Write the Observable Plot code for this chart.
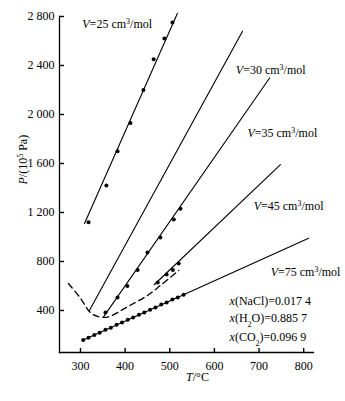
<!DOCTYPE html>
<html><head><meta charset="utf-8">
<script src="https://cdn.jsdelivr.net/npm/d3@7"></script>
<script src="https://cdn.jsdelivr.net/npm/@observablehq/plot@0.6"></script>
<style>body{margin:0;background:#fff} svg, svg text{font-family:"Liberation Serif","Times New Roman",serif !important}</style>
</head><body><div id="chart"></div>
<script>
// Axis ticks
const xTicks = [300, 400, 500, 600, 700, 800];
const yTicks = [400, 800, 1200, 1600, 2000, 2400, 2800];

// Measured points (T in °C, P in 10^5 Pa)
const v25T = [318, 358, 383, 412, 441, 464, 488, 506];
const v25P = [1120, 1420, 1700, 1930, 2200, 2450, 2620, 2750];
const v35T = [356, 383, 405, 428, 450, 479, 509, 524];
const v35P = [384, 506, 600, 730, 873, 996, 1143, 1231];
const v45T = [473, 493, 507, 520];
const v45P = [629, 694, 730, 784];
const v75T = [306, 318, 331, 343, 356, 368, 381, 393, 406, 418, 431, 443, 456, 468, 481, 493, 506, 518, 531];
const v75P = [160, 178, 200, 219, 242, 260, 283, 301, 324, 342, 365, 383, 406, 424, 448, 465, 489, 506, 528];

// Isochore lines (end points)
const line25T = [309, 517];   const line25P = [1110, 2825];
const line30T = [320, 663];   const line30P = [400, 2680];
const line35T = [352, 724];   const line35P = [350, 2300];
const line45T = [465, 748];   const line45P = [610, 1590];
const line75T = [304, 811];   const line75P = [155, 990];

// Dashed boundary curve
const dashT = [273, 300, 322, 338, 352, 366, 405, 450, 479, 520];
const dashP = [620, 500, 384, 352, 343, 352, 430, 522, 604, 727];

// Annotations
const labelText = ["V=25 cm³/mol", "V=30 cm³/mol", "V=35 cm³/mol", "V=45 cm³/mol", "V=75 cm³/mol",
                   "x(NaCl)=0.017 4", "x(H₂O)=0.885 7", "x(CO₂)=0.096 9"];
const labelT = [304, 648, 674, 688, 726, 634, 634, 634];
const labelP = [2740, 2366, 1848, 1254, 710, 473, 335, 180];

const W = 345, H = 401, ML = 59, MR = 32, MT = 16, MB = 49;
const rows = (T, P) => T.map((t, i) => ({T: t, P: P[i]}));
const fmt = d => d >= 1000 ? String(Math.floor(d / 1000)) + " " + String(d % 1000).padStart(3, "0") : String(d);

const lineOpts = {x: "T", y: "P", stroke: "black", strokeWidth: 1.1};
const dotOpts = {x: "T", y: "P", r: 2, fill: "black", stroke: "none"};

const chart = Plot.plot({
  width: W, height: H,
  marginLeft: ML, marginRight: MR, marginTop: MT, marginBottom: MB,
  x: {domain: [253, 822]},
  y: {domain: [57, 2800]},
  style: {fontFamily: "Liberation Serif", fontSize: "12px", background: "white", color: "black"},
  marks: [
    Plot.frame({anchor: "left", stroke: "black", strokeWidth: 1.3}),
    Plot.frame({anchor: "bottom", stroke: "black", strokeWidth: 1.3}),
    Plot.axisY(yTicks, {tickSize: 0, tickPadding: 5, tickFormat: fmt, label: null, fontSize: 12}),
    Plot.axisX(xTicks, {tickSize: 0, tickPadding: 9, tickFormat: d => String(d), label: null, fontSize: 12}),
    // inward tick marks
    Plot.ruleY(yTicks, {y: d => d, insetRight: W - ML - MR - 5, stroke: "black", strokeWidth: 1.4}),
    Plot.ruleX(xTicks, {x: d => d, insetTop: H - MT - MB - 4, stroke: "black", strokeWidth: 1.4}),
    Plot.line(rows(line25T, line25P), lineOpts),
    Plot.line(rows(line30T, line30P), lineOpts),
    Plot.line(rows(line35T, line35P), lineOpts),
    Plot.line(rows(line45T, line45P), lineOpts),
    Plot.line(rows(line75T, line75P), lineOpts),
    Plot.line(rows(dashT, dashP), {x: "T", y: "P", stroke: "black", strokeWidth: 1.3, strokeDasharray: "6,4", curve: "catmull-rom"}),
    Plot.dot(rows(v25T, v25P), dotOpts),
    Plot.dot(rows(v35T, v35P), dotOpts),
    Plot.dot(rows(v45T, v45P), dotOpts),
    Plot.dot(rows(v75T, v75P), dotOpts),
    Plot.text(labelText, {x: (d, i) => labelT[i], y: (d, i) => labelP[i], text: d => d, textAnchor: "start", fontSize: 12, fill: "black"}),
    Plot.text(["P/(10⁵ Pa)"], {frameAnchor: "left", rotate: -90, dx: -36, fontSize: 12, fill: "black"}),
    Plot.text(["T/°C"], {frameAnchor: "bottom", dx: 11, dy: 28, fontSize: 12, fill: "black"})
  ]
});

// Typographic post-processing: italic variable symbols, real sub/superscripts
const SUP = {"³": "3", "⁵": "5"};
const SUB = {"₂": "2"};
chart.querySelectorAll("text").forEach(t => {
  if (t.querySelector("tspan")) return;
  const s = t.textContent;
  if (!/^(V=|x\(|P\/|T\/)/.test(s) && !/[³⁵₂]/.test(s)) return;
  t.textContent = "";
  const ns = "http://www.w3.org/2000/svg";
  let start = 0;
  if (/^(V=|x\(|P\/|T\/)/.test(s)) {
    const it = document.createElementNS(ns, "tspan");
    it.setAttribute("font-style", "italic");
    it.textContent = s[0];
    t.appendChild(it);
    start = 1;
  }
  let buf = "";
  const flush = () => { if (buf) { t.appendChild(document.createTextNode(buf)); buf = ""; } };
  for (const ch of s.slice(start)) {
    if (SUP[ch] || SUB[ch]) {
      flush();
      const sp = document.createElementNS(ns, "tspan");
      sp.setAttribute("font-size", "8px");
      sp.setAttribute("baseline-shift", SUP[ch] ? "super" : "sub");
      sp.textContent = SUP[ch] || SUB[ch];
      t.appendChild(sp);
    } else buf += ch;
  }
  flush();
});

document.getElementById("chart").appendChild(chart);
</script>
</body></html>
